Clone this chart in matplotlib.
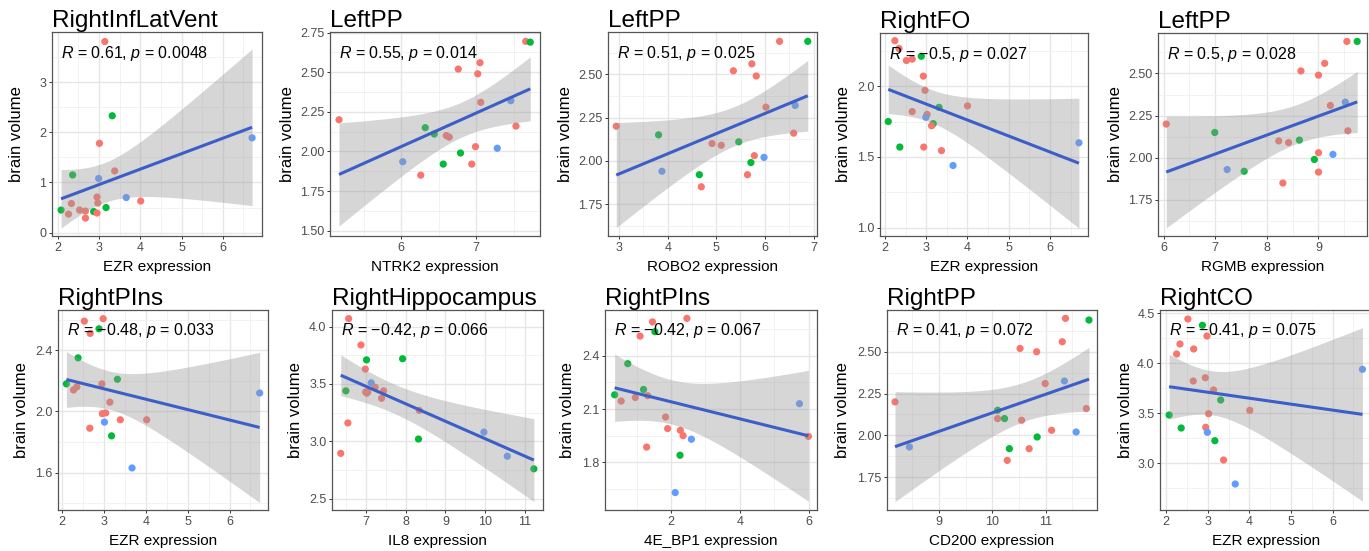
import numpy as np
import matplotlib
matplotlib.use('Agg')
import matplotlib.pyplot as plt
from matplotlib.ticker import FixedLocator, MultipleLocator, FormatStrFormatter

plt.rcParams['font.family'] = ['Liberation Sans', 'DejaVu Sans']
plt.rcParams['mathtext.fontset'] = 'custom'
plt.rcParams['mathtext.it'] = 'Liberation Sans:italic'
plt.rcParams['mathtext.rm'] = 'Liberation Sans'

COLORS = {'r': '#F8766D', 'g': '#00BA38', 'b': '#619CFF'}

titles = ['RightInfLatVent', 'LeftPP', 'LeftPP', 'RightFO', 'LeftPP',
          'RightPIns', 'RightHippocampus', 'RightPIns', 'RightPP', 'RightCO']
xlabels = ['EZR expression', 'NTRK2 expression', 'ROBO2 expression', 'EZR expression',
           'RGMB expression', 'EZR expression', 'IL8 expression', '4E_BP1 expression',
           'CD200 expression', 'EZR expression']
annots = [r'$R$ = 0.61, $p$ = 0.0048', r'$R$ = 0.55, $p$ = 0.014', r'$R$ = 0.51, $p$ = 0.025',
          r'$R$ = −0.5, $p$ = 0.027', r'$R$ = 0.5, $p$ = 0.028', r'$R$ = −0.48, $p$ = 0.033',
          r'$R$ = −0.42, $p$ = 0.066', r'$R$ = −0.42, $p$ = 0.067', r'$R$ = 0.41, $p$ = 0.072',
          r'$R$ = −0.41, $p$ = 0.075']

p1_x = [3.14, 3.32, 3.01, 3.38, 2.36, 2.99, 6.71, 3.66, 4.01, 2.95, 2.97, 2.33, 2.08, 2.26, 2.53, 2.67, 2.67, 2.87, 2.95, 3.17]
p1_y = [3.81, 2.33, 1.78, 1.23, 1.15, 1.08, 1.89, 0.70, 0.63, 0.71, 0.59, 0.58, 0.45, 0.37, 0.45, 0.43, 0.29, 0.42, 0.39, 0.50]
p1_g = list('rgrrgbbbrrrrgrrrrgrg')

p2_x = [5.17, 6.32, 6.44, 6.60, 6.64, 6.02, 6.26, 6.56, 6.79, 6.94, 6.99, 7.28, 6.76, 7.02, 7.05, 7.06, 7.46, 7.53, 7.66, 7.72]
p2_y = [2.20, 2.15, 2.11, 2.10, 2.09, 1.935, 1.85, 1.92, 1.99, 1.92, 2.03, 2.02, 2.52, 2.49, 2.56, 2.31, 2.32, 2.16, 2.695, 2.69]
p2_g = list('rggrrbrggrrbrrrrbrrg')

p3_x = [2.94, 3.81, 3.88, 4.65, 4.69, 4.91, 5.10, 5.46, 5.35, 5.73, 5.82, 5.78, 5.71, 5.98, 5.64, 6.02, 6.62, 6.59, 6.30, 6.88]
p3_y = [2.20, 2.15, 1.94, 1.92, 1.85, 2.10, 2.09, 2.11, 2.52, 2.56, 2.49, 2.03, 1.99, 2.02, 1.92, 2.31, 2.32, 2.16, 2.69, 2.69]
p3_g = list('rgbgrrrgrrrrgbrrbrrg')

p4_x = [2.24, 2.34, 2.52, 2.66, 2.88, 2.93, 2.97, 2.66, 3.02, 2.99, 3.31, 3.17, 3.13, 4.00, 2.08, 2.36, 2.94, 3.37, 3.65, 6.70]
p4_y = [2.32, 2.265, 2.18, 2.19, 2.21, 2.07, 1.97, 1.82, 1.80, 1.78, 1.85, 1.735, 1.72, 1.86, 1.75, 1.57, 1.57, 1.545, 1.44, 1.60]
p4_g = list('rrrrgrrrrbggrrggrrbb')

p5_x = [6.05, 6.99, 7.23, 7.56, 8.31, 8.23, 8.42, 8.63, 8.66, 9.00, 9.12, 9.00, 8.92, 9.28, 9.00, 9.23, 9.52, 9.57, 9.55, 9.75]
p5_y = [2.20, 2.15, 1.93, 1.92, 1.85, 2.10, 2.09, 2.105, 2.515, 2.49, 2.56, 2.03, 1.99, 2.02, 1.915, 2.31, 2.33, 2.16, 2.69, 2.69]
p5_g = list('rgbgrrrgrrrrgbrrbrrg')

p6_x = [2.53, 2.98, 2.88, 2.67, 2.38, 2.10, 2.27, 2.35, 2.95, 3.32, 3.14, 2.96, 3.04, 3.01, 3.39, 4.02, 2.66, 3.18, 3.67, 6.72]
p6_y = [2.59, 2.606, 2.54, 2.51, 2.35, 2.18, 2.14, 2.16, 2.18, 2.21, 2.06, 1.985, 1.99, 1.93, 1.945, 1.945, 1.89, 1.84, 1.63, 2.12]
p6_g = list('rrgrggrrrgrrrbrrrgbb')

p7_x = [6.56, 6.87, 7.01, 7.92, 6.98, 7.13, 7.23, 6.99, 7.04, 7.44, 7.39, 6.49, 8.34, 6.54, 8.32, 6.36, 9.97, 10.56, 11.23, 7.02]
p7_y = [4.07, 3.84, 3.71, 3.72, 3.63, 3.51, 3.47, 3.43, 3.43, 3.44, 3.375, 3.44, 3.27, 3.16, 3.02, 2.895, 3.08, 2.87, 2.76, 3.42]
p7_g = list('rrggrbrrrrrgrrgrbbgr')

p8_x = [1.46, 2.46, 1.53, 1.10, 0.74, 0.36, 0.55, 0.96, 1.20, 1.32, 1.84, 1.90, 2.27, 2.35, 2.59, 1.29, 2.26, 2.12, 5.73, 5.99]
p8_y = [2.59, 2.61, 2.535, 2.51, 2.355, 2.18, 2.145, 2.165, 2.21, 2.175, 2.055, 1.99, 1.98, 1.95, 1.93, 1.886, 1.84, 1.63, 2.13, 1.946]
p8_g = list('rrgrggrrgrrrrrbrgbbr')

p9_x = [8.18, 8.45, 10.10, 10.10, 10.23, 10.55, 10.52, 10.83, 10.99, 11.11, 10.84, 10.32, 10.28, 10.69, 11.31, 11.35, 11.37, 11.57, 11.81, 11.76]
p9_y = [2.20, 1.93, 2.15, 2.10, 2.10, 2.09, 2.52, 2.50, 2.31, 2.03, 1.99, 1.92, 1.85, 1.92, 2.56, 2.325, 2.70, 2.02, 2.69, 2.16]
p9_g = list('rbgrgrrrrrggrrrbrbgr')

p10_x = [2.52, 2.87, 2.98, 2.33, 2.25, 2.66, 2.94, 2.65, 3.14, 3.31, 3.02, 4.01, 2.07, 2.95, 2.99, 2.36, 3.17, 3.38, 3.66, 6.72]
p10_y = [4.44, 4.377, 4.27, 4.19, 4.09, 4.14, 3.853, 3.82, 3.73, 3.63, 3.493, 3.527, 3.48, 3.357, 3.307, 3.35, 3.223, 3.03, 2.79, 3.937]
p10_g = list('rgrrrrrrrgrrgrbggrbb')

xs = [p1_x, p2_x, p3_x, p4_x, p5_x, p6_x, p7_x, p8_x, p9_x, p10_x]
ys = [p1_y, p2_y, p3_y, p4_y, p5_y, p6_y, p7_y, p8_y, p9_y, p10_y]
gs = [p1_g, p2_g, p3_g, p4_g, p5_g, p6_g, p7_g, p8_g, p9_g, p10_g]

xticks = [[2, 3, 4, 5, 6], [6, 7], [3, 4, 5, 6, 7], [2, 3, 4, 5, 6], [6, 7, 8, 9],
          [2, 3, 4, 5, 6], [7, 8, 9, 10, 11], [2, 4, 6], [9, 10, 11], [2, 3, 4, 5, 6]]
yticks = [[0, 1, 2, 3], [1.50, 1.75, 2.00, 2.25, 2.50, 2.75], [1.75, 2.00, 2.25, 2.50],
          [1.0, 1.5, 2.0], [1.75, 2.00, 2.25, 2.50], [1.6, 2.0, 2.4], [2.5, 3.0, 3.5, 4.0],
          [1.8, 2.1, 2.4], [1.75, 2.00, 2.25, 2.50], [3.0, 3.5, 4.0, 4.5]]
yfmt = ['%d', '%.2f', '%.2f', '%.1f', '%.2f', '%.1f', '%.1f', '%.1f', '%.2f', '%.1f']

xlims = [(1.86, 6.95), (5.05, 7.85), (2.77, 7.07), (1.88, 6.92), (5.89, 9.94),
         (1.90, 6.92), (6.14, 11.46), (0.08, 6.24), (8.03, 11.96), (1.85, 6.95)]
ylims = [(-0.067, 4.0), (1.466, 2.754), (1.566, 2.744), (0.943, 2.374), (1.536, 2.74),
         (1.355, 2.663), (2.401, 4.145), (1.532, 2.657), (1.553, 2.75), (2.53, 4.53)]

# axes boxes in pixels: left, top, right, bottom
boxes = [(52, 32, 262, 236), (330, 32, 540, 236), (608, 32, 817, 236), (880, 33, 1088, 236),
         (1158, 33, 1367, 236), (58, 310, 268, 510), (332, 310, 543, 510), (605, 310, 817, 510),
         (887, 310, 1097, 510), (1160, 310, 1372, 510)]
# distance (px) of y-label centre to the left of each box
ylab_off = [35, 42, 43, 37, 43, 36, 37, 37, 44, 35]

W, H = 1369, 551
fig = plt.figure(figsize=(W / 100, H / 100), dpi=100)
T975 = 2.100922  # t quantile, df = 18

for i in range(10):
    l, t, r, b = boxes[i]
    wpx, hpx = r - l, b - t
    ax = fig.add_axes([l / W, 1 - b / H, wpx / W, hpx / H])
    x = np.array(xs[i], float)
    y = np.array(ys[i], float)
    cols = [COLORS[c] for c in gs[i]]
    ax.scatter(x, y, s=27, c=cols, edgecolors='none', zorder=2)

    n = len(x)
    b1, b0 = np.polyfit(x, y, 1)
    xx = np.linspace(x.min(), x.max(), 100)
    yy = b0 + b1 * xx
    resid = y - (b0 + b1 * x)
    s = np.sqrt(np.sum(resid ** 2) / (n - 2))
    sxx = np.sum((x - x.mean()) ** 2)
    se = s * np.sqrt(1.0 / n + (xx - x.mean()) ** 2 / sxx)
    ax.fill_between(xx, yy - T975 * se, yy + T975 * se, color='#999999', alpha=0.4,
                    linewidth=0, zorder=3)
    ax.plot(xx, yy, color='#3B5EC8', lw=2.2, zorder=4, solid_capstyle='butt')

    ax.set_xlim(*xlims[i])
    ax.set_ylim(*ylims[i])
    ax.xaxis.set_major_locator(FixedLocator(xticks[i]))
    ax.yaxis.set_major_locator(FixedLocator(yticks[i]))
    xs_step = xticks[i][1] - xticks[i][0]
    ys_step = yticks[i][1] - yticks[i][0]
    ax.xaxis.set_minor_locator(MultipleLocator(xs_step / 2))
    ax.yaxis.set_minor_locator(MultipleLocator(ys_step / 2))
    ax.xaxis.set_major_formatter(FormatStrFormatter('%d'))
    ax.yaxis.set_major_formatter(FormatStrFormatter(yfmt[i]))
    ax.grid(which='major', color='#E6E6E6', lw=1.0, zorder=0)
    ax.grid(which='minor', color='#F0F0F0', lw=0.6, zorder=0)
    ax.set_axisbelow(True)
    ax.tick_params(which='major', length=2.5, width=0.7, color='#333333',
                   labelsize=9, labelcolor='#4D4D4D', pad=1.5)
    ax.tick_params(which='minor', length=0)
    for sp in ax.spines.values():
        sp.set_color('#555555')
        sp.set_linewidth(0.9)
    ax.set_xlabel(xlabels[i], fontsize=11, va='center')
    ax.xaxis.set_label_coords(0.5, -31.0 / hpx)
    ax.set_ylabel('brain volume', fontsize=12, va='center')
    ax.yaxis.set_label_coords(-ylab_off[i] / wpx, 0.5)
    ax.set_title(titles[i], loc='left', fontsize=17.5, pad=1.5)
    ax.text(0.043, 0.895, annots[i], transform=ax.transAxes, ha='left', va='center',
            fontsize=11.5, zorder=6)

fig.savefig('out.png', dpi=100)
